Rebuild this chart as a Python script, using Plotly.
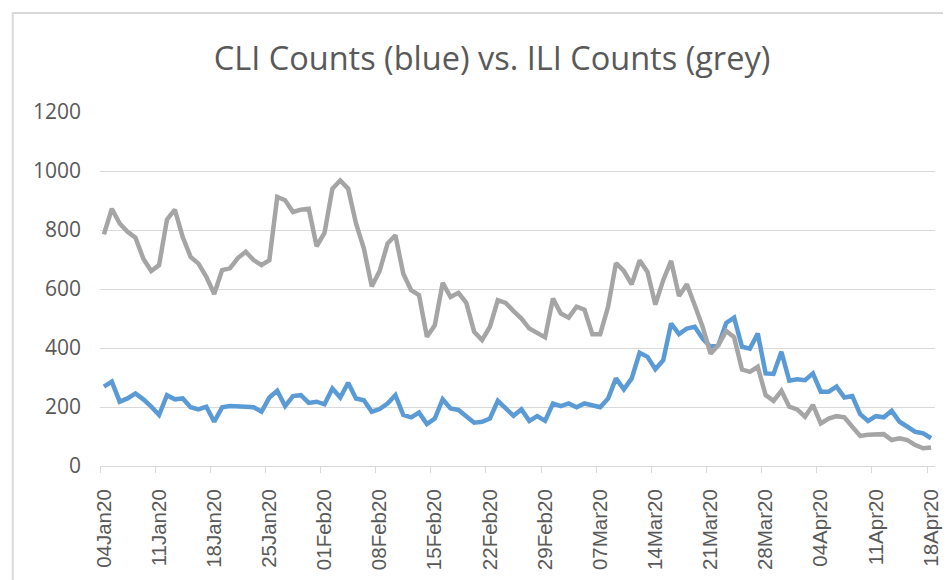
import pandas as pd
import plotly.graph_objects as go

start_date = "2020-01-04"
n_days = 106

ili_grey = [785, 872, 822, 794, 774, 703, 661, 681, 835, 869,
            776, 709, 686, 641, 583, 664, 670, 705, 726, 698,
            681, 698, 912, 901, 861, 869, 872, 745, 790, 940,
            968, 940, 822, 737, 609, 661, 754, 782, 652, 596,
            579, 438, 477, 621, 573, 587, 553, 455, 427, 472,
            562, 553, 525, 500, 466, 449, 436, 568, 517, 503,
            540, 530, 447, 447, 540, 688, 661, 616, 697, 658,
            547, 630, 695, 576, 616, 545, 472, 381, 410, 458,
            436, 327, 319, 336, 240, 221, 255, 201, 192, 167,
            207, 144, 161, 169, 165, 133, 102, 106, 106, 108,
            88, 94, 88, 71, 60, 63]

cli_blue = [269, 286, 218, 229, 246, 226, 201, 173, 240, 226,
            229, 199, 192, 201, 150, 199, 203, 203, 201, 199,
            184, 232, 255, 203, 237, 240, 214, 218, 209, 263,
            232, 282, 229, 223, 184, 193, 212, 240, 173, 165,
            181, 142, 161, 226, 195, 190, 167, 147, 150, 161,
            221, 195, 170, 192, 153, 169, 153, 212, 203, 212,
            199, 212, 207, 199, 229, 297, 260, 297, 384, 370,
            328, 359, 483, 447, 466, 472, 432, 404, 410, 485,
            503, 404, 398, 449, 314, 312, 387, 289, 294, 291,
            314, 252, 252, 269, 232, 237, 176, 153, 169, 165,
            187, 150, 133, 116, 111, 94]

y_ticks = [0, 200, 400, 600, 800, 1000, 1200]
title_text = "CLI Counts (blue) vs. ILI Counts (grey)"

dates = pd.date_range(start_date, periods=n_days, freq="D")
half_day = pd.Timedelta(hours=12)
week_ms = 7 * 24 * 3600 * 1000

fig = go.Figure()
fig.add_trace(go.Scatter(x=dates, y=cli_blue, mode="lines",
                         line=dict(color="#5B9BD5", width=4.5), name="CLI"))
fig.add_trace(go.Scatter(x=dates, y=ili_grey, mode="lines",
                         line=dict(color="#A5A5A5", width=4.5), name="ILI"))

OFF = 8  # page body margin
W, H = 951 - OFF, 580 - OFF
L, R, T, B = 100 - OFF, 9, 112 - OFF, 114
pw, ph = W - L - R, H - T - B

def px_to_paper_x(px):
    return (px - OFF - L) / pw

def px_to_paper_y(py):
    return (H - B - (py - OFF)) / ph

fig.update_layout(
    width=W, height=H,
    margin=dict(l=L, r=R, t=T, b=B),
    paper_bgcolor="white", plot_bgcolor="white",
    showlegend=False,
    title=dict(text=title_text, x=(492 - OFF) / W, xanchor="center", xref="container",
               y=1 - (59 - OFF) / H, yanchor="middle", yref="container",
               font=dict(family="Open Sans", size=32.5, color="#595959")),
    shapes=[dict(type="rect", xref="paper", yref="paper",
                 x0=px_to_paper_x(12), x1=px_to_paper_x(1000),
                 y0=px_to_paper_y(640), y1=px_to_paper_y(13),
                 line=dict(color="#D9D9D9", width=2), fillcolor="rgba(0,0,0,0)",
                 layer="below")],
)

fig.update_xaxes(
    type="date",
    range=[dates[0] - half_day, dates[-1] + half_day],
    tick0=dates[0], dtick=week_ms, tickformat="%d%b%y",
    tickangle=-90, ticks="",
    tickfont=dict(family="Liberation Sans", size=20.5, color="#595959"),
    ticklabelstandoff=14,
    showgrid=False, zeroline=False,
    showline=True, linecolor="#D9D9D9", linewidth=1,
    minor=dict(ticks="outside", ticklen=6, tickcolor="#D9D9D9", tickwidth=1,
               tick0=dates[0] - half_day, dtick=week_ms, showgrid=False),
)

fig.update_yaxes(
    range=[0, 1200], tickvals=y_ticks,
    tickfont=dict(family="Open Sans", size=21, color="#595959"),
    ticklabelstandoff=18,
    showgrid=True, gridcolor="#D9D9D9", gridwidth=1,
    zeroline=False, showline=False, ticks="",
)

fig.write_html("out.html")
